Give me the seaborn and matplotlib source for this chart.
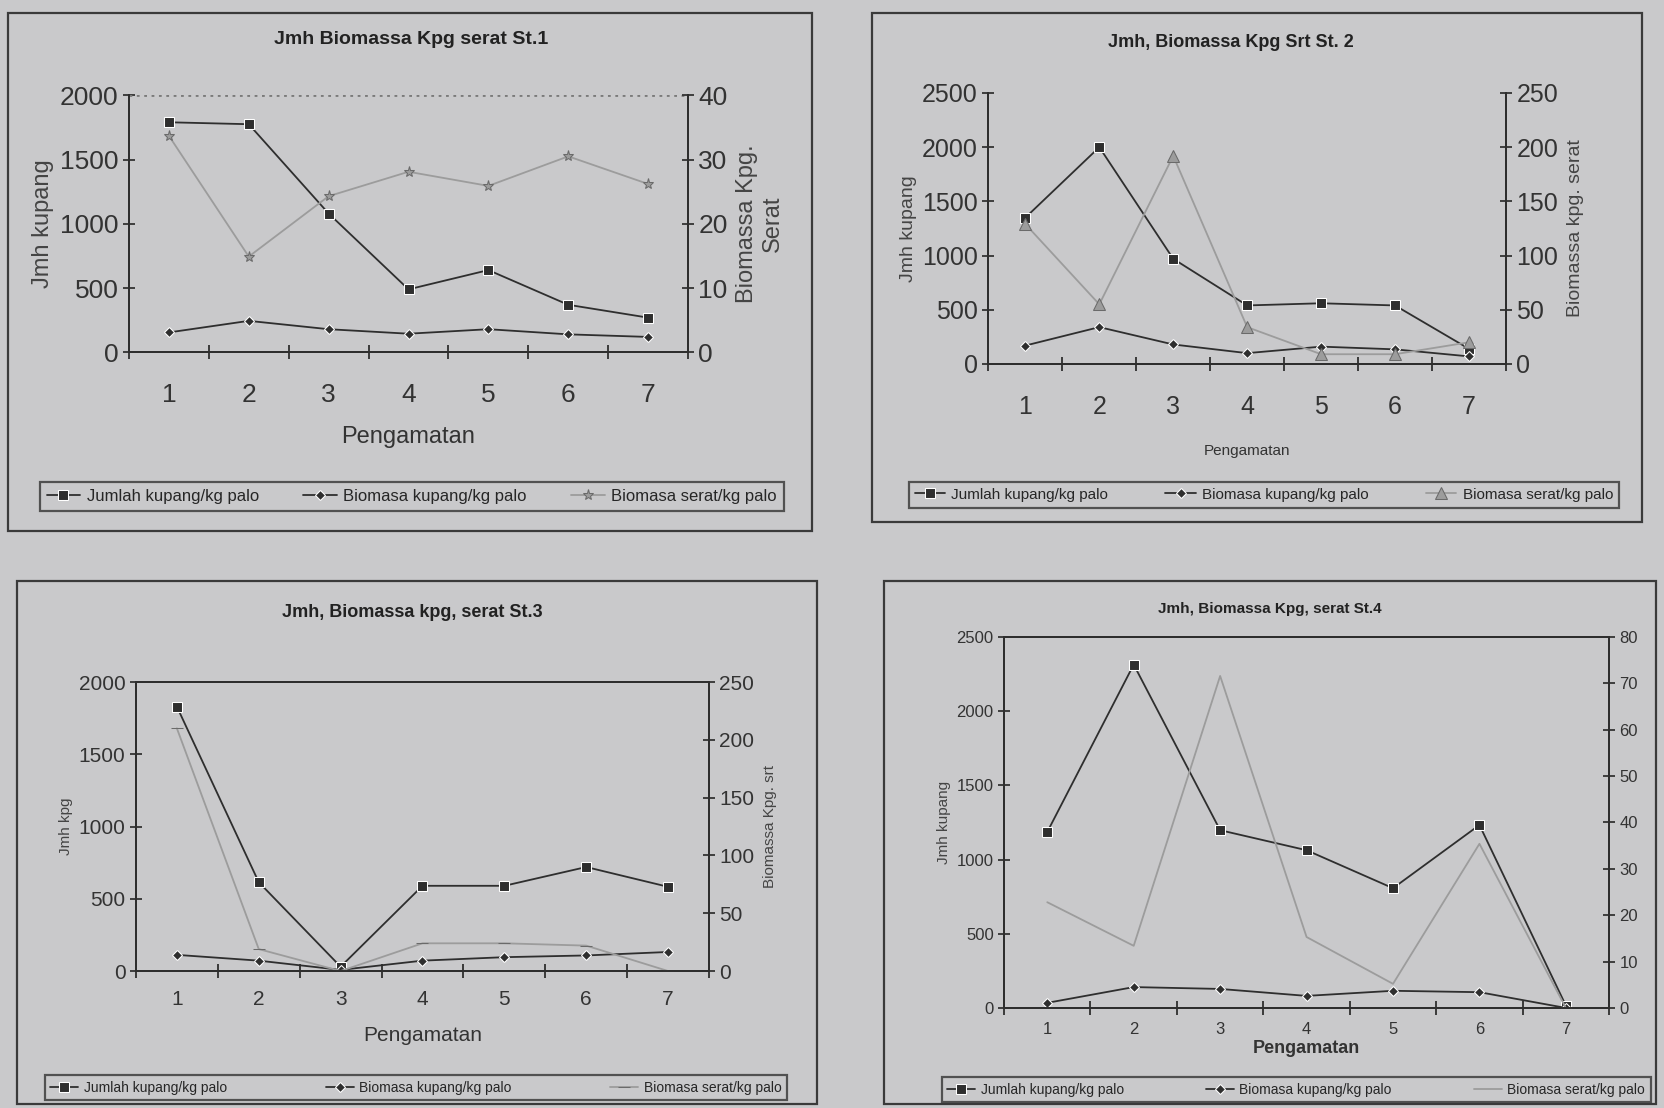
import numpy as np
import pandas as pd
import matplotlib
matplotlib.use("Agg")
import matplotlib.pyplot as plt
from matplotlib.patches import Rectangle
import seaborn as sns

# data
pengamatan = [1, 2, 3, 4, 5, 6, 7]

jumlah_st1 = [1790, 1775, 1080, 490, 640, 370, 270]
bio_kpg_st1 = [3.1, 4.9, 3.6, 2.9, 3.6, 2.8, 2.4]
bio_srt_st1 = [33.7, 14.9, 24.3, 28.1, 25.9, 30.5, 26.2]

jumlah_st2 = [1350, 2000, 970, 540, 560, 540, 140]
bio_kpg_st2 = [17, 34, 18, 10, 16, 13.5, 7]
bio_srt_st2 = [129, 55, 192, 34, 9, 9, 20]

jumlah_st3 = [1830, 615, 30, 590, 590, 720, 583]
bio_kpg_st3 = [14, 9, 1, 9, 12, 13.5, 16.5]
bio_srt_st3 = [210, 19, 0, 24, 24, 22, 0]

jumlah_st4 = [1186, 2314, 1198, 1063, 807, 1233, 16]
bio_kpg_st4 = [1.1, 4.5, 4.1, 2.6, 3.7, 3.4, 0]
bio_srt_st4 = [22.8, 13.4, 71.6, 15.3, 5.2, 35.4, 0]

judul = ["Jmh Biomassa Kpg serat St.1", "Jmh, Biomassa Kpg Srt St. 2",
         "Jmh, Biomassa kpg, serat St.3", "Jmh, Biomassa Kpg, serat St.4"]
label_kiri = ["Jmh kupang", "Jmh kupang", "Jmh kpg", "Jmh kupang"]
label_kanan = ["Biomassa Kpg.\nSerat", "Biomassa kpg. serat", "Biomassa Kpg. srt", ""]
nama_seri = ["Jumlah kupang/kg palo", "Biomasa kupang/kg palo", "Biomasa serat/kg palo"]

sns.set_style("ticks")
plt.rcParams['font.family'] = ['Liberation Sans', 'DejaVu Sans']

BG = '#c9c9cb'
GELAP = '#2e2e2e'
TERANG = '#9c9c9c'

fig = plt.figure(figsize=(16.64, 11.08), dpi=100, facecolor=BG)

# posisi tiap panel (kotak luar, area plot, legenda)
kotak = [[0.005, 0.521, 0.483, 0.467], [0.524, 0.529, 0.463, 0.459],
         [0.010, 0.004, 0.481, 0.472], [0.531, 0.004, 0.464, 0.472]]
area = [[0.0775, 0.682, 0.336, 0.232], [0.594, 0.6715, 0.311, 0.2446],
        [0.0817, 0.1236, 0.3444, 0.2608], [0.6034, 0.0903, 0.3636, 0.3348]]
leg_box = [[0.024, 0.533, 0.447, 0.038], [0.546, 0.536, 0.427, 0.035],
           [0.027, 0.003, 0.446, 0.031], [0.566, 0.003, 0.426, 0.027]]
judul_pos = [(0.247, 0.964), (0.740, 0.962), (0.248, 0.447), (0.763, 0.450)]
kiri_max = [2000, 2500, 2000, 2500]
kanan_max = [40, 250, 250, 80]
kanan_step = [10, 50, 50, 10]
marker_srt = ['*', '^', '_', None]
fs_tick = [19, 18, 15, 12]
fs_judul = [14, 13, 13, 11]
fs_leg = [12, 11, 10, 10]
frame = [False, False, True, True]

data = [(jumlah_st1, bio_kpg_st1, bio_srt_st1), (jumlah_st2, bio_kpg_st2, bio_srt_st2),
        (jumlah_st3, bio_kpg_st3, bio_srt_st3), (jumlah_st4, bio_kpg_st4, bio_srt_st4)]

for i in range(4):
    fig.add_artist(Rectangle((kotak[i][0], kotak[i][1]), kotak[i][2], kotak[i][3],
                             transform=fig.transFigure, fill=False, ec='#3a3a3a', lw=1.6))
    jml, bkpg, bsrt = data[i]
    df = pd.DataFrame({'Pengamatan': pengamatan, 'jumlah': jml, 'bkpg': bkpg, 'bsrt': bsrt})

    ax = fig.add_axes(area[i])
    ax.set_facecolor('none')
    ax2 = ax.twinx()

    sns.lineplot(data=df, x='Pengamatan', y='jumlah', ax=ax, color=GELAP, marker='s',
                 markersize=7, lw=1.3, label=nama_seri[0], legend=False)
    sns.lineplot(data=df, x='Pengamatan', y='bkpg', ax=ax2, color=GELAP, marker='D',
                 markersize=5, lw=1.3, label=nama_seri[1], legend=False)
    sns.lineplot(data=df, x='Pengamatan', y='bsrt', ax=ax2, color=TERANG, marker=marker_srt[i],
                 markersize=8, mec='#6a6a6a', lw=1.3, label=nama_seri[2], legend=False)

    ax.set_xlim(0.5, 7.5)
    ax.set_ylim(0, kiri_max[i])
    ax2.set_ylim(0, kanan_max[i])
    ax.set_yticks(np.arange(0, kiri_max[i] + 1, 500))
    ax2.set_yticks(np.arange(0, kanan_max[i] + 1, kanan_step[i]))
    # excel style: tick marks between categories, labels at the categories
    ax.set_xticks(np.arange(0.5, 8, 1))
    ax.set_xticklabels([])
    ax.set_xticks(pengamatan, minor=True)
    ax.set_xticklabels([str(p) for p in pengamatan], minor=True)
    ax.tick_params(axis='x', which='minor', length=0, pad=[22, 22, 14, 10][i],
                   labelsize=fs_tick[i], colors='#333333')
    ax.tick_params(axis='x', which='major', direction='inout', length=10, width=1.3, color=GELAP)
    ax.tick_params(axis='y', direction='inout', length=8, width=1.3, labelsize=fs_tick[i],
                   colors='#333333')
    ax2.tick_params(axis='y', direction='inout', length=8, width=1.3, labelsize=fs_tick[i],
                    colors='#333333')

    for a in (ax, ax2):
        for s in a.spines.values():
            s.set_color(GELAP)
            s.set_linewidth(1.4)
        a.spines['top'].set_visible(frame[i])
    if i == 0:
        ax.axhline(2000, ls=':', lw=2, color='#7a7a7a')

    ax.set_xlabel('Pengamatan', fontsize=[17, 11, 15, 13][i], fontweight='bold' if i == 3 else 'normal',
                  color='#333333', labelpad=[14, 18, 12, 2][i])
    ax.set_ylabel(label_kiri[i], fontsize=[17, 14, 11, 11][i], color='#444444', labelpad=4)
    ax2.set_ylabel(label_kanan[i], fontsize=[17, 14, 11, 11][i], color='#444444',
                   rotation=90, labelpad=6)

    fig.text(judul_pos[i][0], judul_pos[i][1], judul[i], ha='center', va='center',
             fontsize=fs_judul[i], fontweight='bold', color='#222222')

    h1, l1 = ax.get_legend_handles_labels()
    h2, l2 = ax2.get_legend_handles_labels()
    leg = fig.legend(h1 + h2, l1 + l2, loc='center', ncol=3, mode='expand',
                     bbox_to_anchor=leg_box[i], fontsize=fs_leg[i], frameon=True,
                     fancybox=False, edgecolor='#333333', facecolor='none',
                     handlelength=2.0, handletextpad=0.4, borderaxespad=0, borderpad=0.4)
    leg.get_frame().set_linewidth(1.6)

fig.savefig('out.png', dpi=100, facecolor=BG)
